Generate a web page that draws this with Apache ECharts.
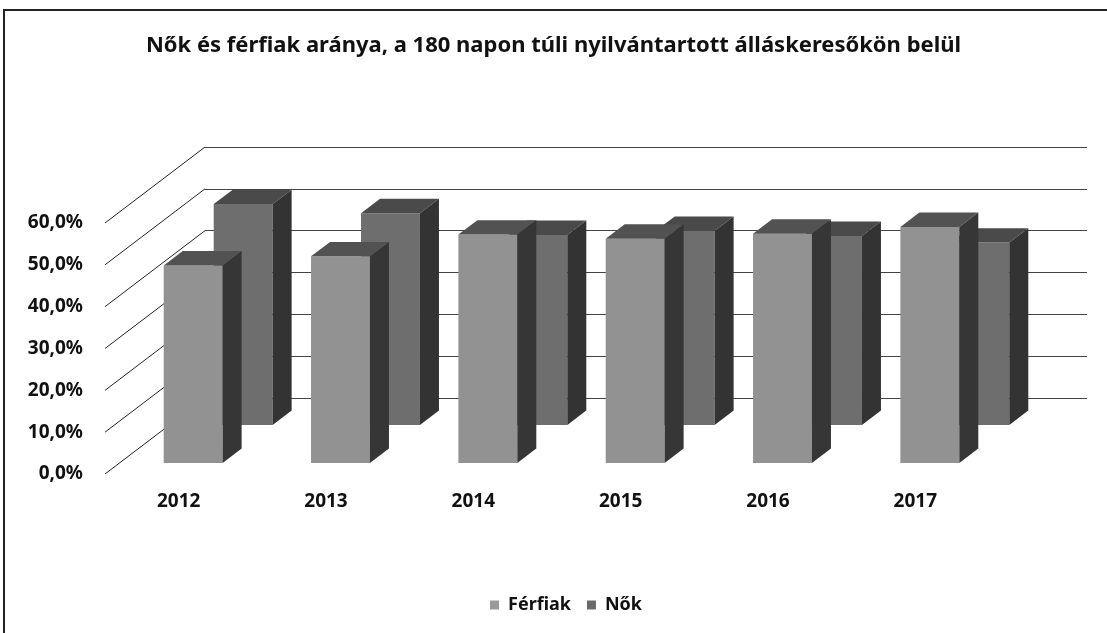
<!DOCTYPE html>
<html>
<head>
<meta charset="utf-8"/>
<title>Nők és férfiak aránya</title>
<script src="https://cdn.jsdelivr.net/npm/echarts@6/dist/echarts.min.js"></script>
<style>
  html, body { margin: 0; padding: 0; background: #fff; }
  #chart { width: 1107px; height: 633px; }
  #frame { position: absolute; left: 3px; top: 9px; width: 1110px; height: 640px;
           border-left: 2px solid #222; border-top: 2px solid #222; pointer-events: none; }
</style>
</head>
<body>
<div id="chart"></div>
<div id="frame"></div>
<script type="text/javascript">
  // adatok
  var years = ['2012', '2013', '2014', '2015', '2016', '2017'];
  var ferfiak = [47.2, 49.4, 54.6, 53.6, 54.8, 56.4];
  var nok = [52.8, 50.6, 45.4, 46.4, 45.2, 43.6];
  var yTicks = [0, 10, 20, 30, 40, 50, 60];

  // 3D vetites: a teljes melyseg pixelben
  var DX = 100, DY = -76;
  var BAR_DEPTH = 0.19;
  var FONT = '"Noto Sans", "DejaVu Sans", sans-serif';

  var barRenderer = function (depth, c) {
    return function (params, api) {
      var i = api.value(0), v = api.value(1);
      var base = api.coord([i, 0]);
      var top = api.coord([i, v]);
      var w = api.size([1, 0])[0] * 0.4;
      var xl = base[0] - w / 2 + DX * depth, xr = xl + w;
      var yb = base[1] + DY * depth, yt = top[1] + DY * depth;
      var dx = DX * BAR_DEPTH, dy = DY * BAR_DEPTH;
      return {
        type: 'group',
        children: [
          { type: 'rect', shape: { x: xl, y: yt, width: w, height: yb - yt },
            style: { fill: c.front } },
          { type: 'polygon', shape: { points: [[xl, yt], [xr, yt], [xr + dx, yt + dy], [xl + dx, yt + dy]] },
            style: { fill: c.top } },
          { type: 'polygon', shape: { points: [[xr, yt], [xr + dx, yt + dy], [xr + dx, yb + dy], [xr, yb]] },
            style: { fill: c.side } }
        ]
      };
    };
  };

  var myChart = echarts.init(document.getElementById('chart'));
  var option = {
    animation: false,
    title: {
      text: 'Nők és férfiak aránya, a 180 napon túli nyilvántartott álláskeresőkön belül',
      left: 'center', top: 30,
      textStyle: { fontFamily: FONT, fontSize: 22, fontWeight: 'bold', color: '#111' }
    },
    legend: {
      data: ['Férfiak', 'Nők'],
      top: 591, left: 485,
      icon: 'rect', itemWidth: 9, itemHeight: 9, itemGap: 16,
      textStyle: { fontFamily: FONT, fontSize: 18, fontWeight: 'bold', color: '#111', padding: [0, 0, 0, 4] }
    },
    grid: [
      { left: 105, right: 118, top: 223, bottom: 159 },
      { left: 205, right: 20, top: 147, bottom: 235 }
    ],
    xAxis: [
      { type: 'category', data: years, gridIndex: 0,
        axisLine: { show: false }, axisTick: { show: false },
        axisLabel: { margin: 18, fontFamily: FONT, fontSize: 19, fontWeight: 'bold', color: '#111' } },
      { type: 'category', data: years, gridIndex: 1, show: false }
    ],
    yAxis: [
      { type: 'value', gridIndex: 0, min: 0, max: 60, interval: 10,
        splitLine: { show: false }, axisLine: { show: false }, axisTick: { show: false },
        axisLabel: { margin: 22, fontFamily: FONT, fontSize: 19, fontWeight: 'bold', color: '#111',
          formatter: function (v) { return v.toFixed(1).replace('.', ',') + '%'; } } },
      { type: 'value', gridIndex: 1, min: 0, max: 60, interval: 10,
        axisLabel: { show: false }, axisLine: { show: false }, axisTick: { show: false },
        splitLine: { show: true, lineStyle: { color: '#444', width: 1 } } }
    ],
    series: [
      {
        // bal oldalfal atloi
        type: 'custom', name: 'fal', xAxisIndex: 0, yAxisIndex: 0, silent: true,
        data: yTicks.map(function (t) { return [0, t]; }),
        renderItem: function (params, api) {
          var p = api.coord([0, api.value(1)]);
          var x0 = params.coordSys.x;
          return { type: 'line', shape: { x1: x0, y1: p[1], x2: x0 + DX, y2: p[1] + DY },
                   style: { stroke: '#222', lineWidth: 1 } };
        }
      },
      {
        type: 'custom', name: 'Nők', xAxisIndex: 0, yAxisIndex: 0,
        itemStyle: { color: '#6a6a6a' },
        data: nok.map(function (v, i) { return [i, v]; }),
        renderItem: barRenderer(0.645, { front: '#6e6e6e', top: '#4a4a4a', side: '#333333' })
      },
      {
        type: 'custom', name: 'Férfiak', xAxisIndex: 0, yAxisIndex: 0,
        itemStyle: { color: '#9a9a9a' },
        data: ferfiak.map(function (v, i) { return [i, v]; }),
        renderItem: barRenderer(0.145, { front: '#929292', top: '#525252', side: '#363636' })
      }
    ]
  };
  myChart.setOption(option);
</script>
</body>
</html>
